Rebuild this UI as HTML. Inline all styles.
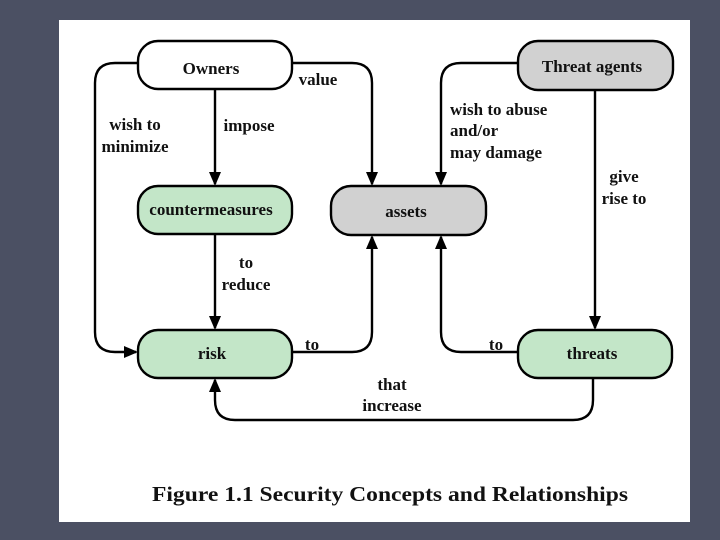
<!DOCTYPE html>
<html><head><style>
body{margin:0;background:#4b5063;width:720px;height:540px;overflow:hidden}
svg{position:absolute;left:0;top:0}
text{font-family:"Liberation Serif",serif;font-weight:bold;fill:#111}
</style></head><body>
<svg width="720" height="540" viewBox="0 0 720 540">
<defs><marker id="a" markerWidth="14" markerHeight="14" refX="12" refY="6" orient="auto" markerUnits="userSpaceOnUse"><path d="M0,0 L14,6 L0,12 z" fill="#000"/></marker></defs>
<rect x="59" y="20" width="631" height="502" fill="#fff"/>
<g fill="none" stroke="#000" stroke-width="2.4">
<path d="M138,63 H115 Q95,63 95,83 V332 Q95,352 115,352 H136" marker-end="url(#a)"/>
<path d="M215,89 V184" marker-end="url(#a)"/>
<path d="M292,63 H352 Q372,63 372,83 V184" marker-end="url(#a)"/>
<path d="M518,63 H461 Q441,63 441,83 V184" marker-end="url(#a)"/>
<path d="M595,90 V328" marker-end="url(#a)"/>
<path d="M215,234 V328" marker-end="url(#a)"/>
<path d="M292,352 H352 Q372,352 372,332 V237" marker-end="url(#a)"/>
<path d="M518,352 H461 Q441,352 441,332 V237" marker-end="url(#a)"/>
<path d="M593,378 V400 Q593,420 573,420 H235 Q215,420 215,400 V380" marker-end="url(#a)"/>
</g>
<g stroke="#000" stroke-width="2.4">
<rect x="138" y="41" width="154" height="48" rx="20" fill="#fff"/>
<rect x="518" y="41" width="155" height="49" rx="20" fill="#d1d1d1"/>
<rect x="138" y="186" width="154" height="48" rx="20" fill="#c3e6c8"/>
<rect x="331" y="186" width="155" height="49" rx="20" fill="#d1d1d1"/>
<rect x="138" y="330" width="154" height="48" rx="20" fill="#c3e6c8"/>
<rect x="518" y="330" width="154" height="48" rx="20" fill="#c3e6c8"/>
</g>
<g font-size="17" text-anchor="middle">
<text x="211" y="74">Owners</text>
<text x="592" y="72">Threat agents</text>
<text x="211" y="215">countermeasures</text>
<text x="406" y="217">assets</text>
<text x="212" y="359">risk</text>
<text x="592" y="359">threats</text>
<text x="135" y="130">wish to</text>
<text x="135" y="152">minimize</text>
<text x="249" y="131">impose</text>
<text x="318" y="85">value</text>
<text x="246" y="268">to</text>
<text x="246" y="290">reduce</text>
<text x="624" y="182">give</text>
<text x="624" y="204">rise to</text>
<text x="312" y="350">to</text>
<text x="496" y="350">to</text>
<text x="392" y="390">that</text>
<text x="392" y="411">increase</text>
</g>
<g font-size="17">
<text x="450" y="115">wish to abuse</text>
<text x="450" y="136">and/or</text>
<text x="450" y="158">may damage</text>
</g>
<text x="152" y="501" font-size="21" textLength="476" lengthAdjust="spacingAndGlyphs">Figure 1.1  Security Concepts and Relationships</text>
</svg>
</body></html>
